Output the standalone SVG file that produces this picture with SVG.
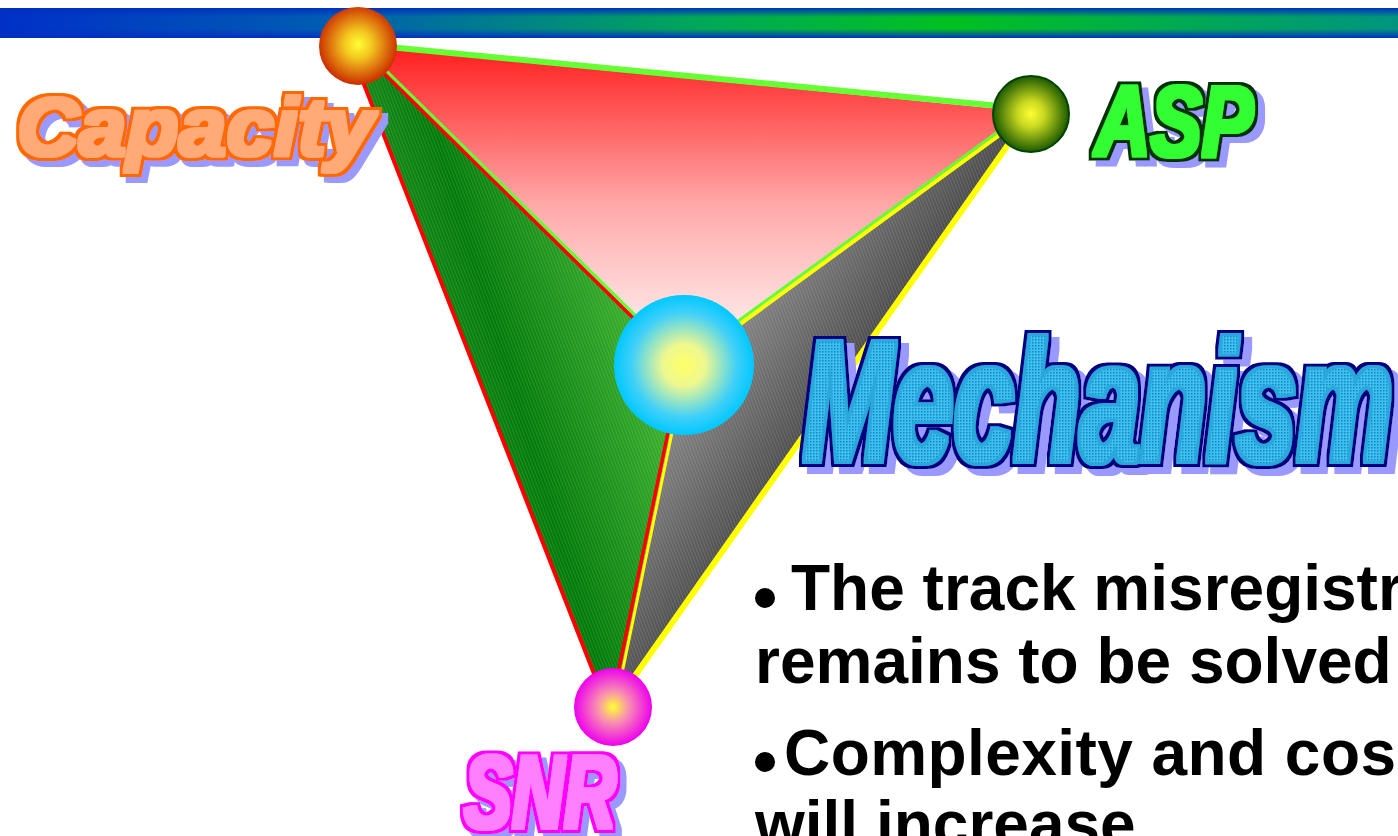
<svg xmlns="http://www.w3.org/2000/svg" width="1398" height="836" viewBox="0 0 1398 836">
<style>
.lbl{font-family:"Liberation Sans",Arial,sans-serif;font-weight:bold;font-style:italic}
.body{font-family:"Liberation Sans",Arial,sans-serif;font-weight:bold;font-size:64px;fill:#000}
.edge{fill:none;stroke-linecap:round}
</style>
<defs>
<linearGradient id="barH" x1="0" y1="0" x2="1" y2="0">
<stop offset="0" stop-color="#0030c8"/>
<stop offset="0.25" stop-color="#0060b0"/>
<stop offset="0.5" stop-color="#00a858"/>
<stop offset="0.68" stop-color="#00c020"/>
<stop offset="1" stop-color="#009480"/>
</linearGradient>
<linearGradient id="barV" x1="0" y1="0" x2="0" y2="1">
<stop offset="0" stop-color="#0030c0" stop-opacity="1"/>
<stop offset="0.3" stop-color="#0030c0" stop-opacity="0"/>
<stop offset="0.7" stop-color="#0030c0" stop-opacity="0"/>
<stop offset="1" stop-color="#0030c0" stop-opacity="1"/>
</linearGradient>
<linearGradient id="redFace" gradientUnits="userSpaceOnUse" x1="0" y1="50" x2="0" y2="330">
<stop offset="0" stop-color="#ff2020"/>
<stop offset="0.55" stop-color="#ffa8a8"/>
<stop offset="1" stop-color="#ffeaea"/>
</linearGradient>
<linearGradient id="greenFace" gradientUnits="userSpaceOnUse" x1="420" y1="330" x2="650" y2="260">
<stop offset="0" stop-color="#1a8c1a"/>
<stop offset="0.3" stop-color="#007a08"/>
<stop offset="1" stop-color="#48bc36"/>
</linearGradient>
<linearGradient id="grayFace" gradientUnits="userSpaceOnUse" x1="690" y1="390" x2="840" y2="490">
<stop offset="0" stop-color="#858585"/>
<stop offset="1" stop-color="#333333"/>
</linearGradient>
<pattern id="stripes" width="3" height="12" patternUnits="userSpaceOnUse" patternTransform="rotate(-21)">
<rect x="0" y="0" width="1" height="12" fill="#ffffff" fill-opacity="0.13"/>
</pattern>
<pattern id="dots" width="3" height="3" patternUnits="userSpaceOnUse">
<rect width="3" height="3" fill="#3cc0f0"/>
<rect width="1.5" height="1.5" fill="#1488c4"/>
</pattern>
<radialGradient id="gCap" cx="0.5" cy="0.48" r="0.5">
<stop offset="0" stop-color="#ffff33"/>
<stop offset="0.35" stop-color="#f4c820"/>
<stop offset="1" stop-color="#cc3300"/>
</radialGradient>
<radialGradient id="gAsp" cx="0.5" cy="0.5" r="0.5">
<stop offset="0" stop-color="#ffff33"/>
<stop offset="0.35" stop-color="#c8d820"/>
<stop offset="1" stop-color="#1c5a00"/>
</radialGradient>
<radialGradient id="gSnr" cx="0.5" cy="0.5" r="0.5">
<stop offset="0" stop-color="#ffff33"/>
<stop offset="0.4" stop-color="#f890b0"/>
<stop offset="1" stop-color="#ee00ee"/>
</radialGradient>
<radialGradient id="gMid" cx="0.5" cy="0.5" r="0.5">
<stop offset="0" stop-color="#ffff66"/>
<stop offset="0.3" stop-color="#eef890"/>
<stop offset="0.75" stop-color="#40d0f8"/>
<stop offset="1" stop-color="#00c8ff"/>
</radialGradient>
<filter id="fCap" x="-5%" y="-20%" width="115%" height="145%">
<feMorphology in="SourceAlpha" operator="dilate" radius="4.5" result="outer"/>
<feMorphology in="SourceAlpha" operator="dilate" radius="2" result="inner"/>
<feFlood flood-color="#9999ff"/><feComposite in2="outer" operator="in"/><feOffset dx="6" dy="6" result="sh"/>
<feFlood flood-color="#ff6a00"/><feComposite in2="outer" operator="in" result="ol"/>
<feFlood flood-color="#ffaa77"/><feComposite in2="inner" operator="in" result="fi"/>
<feMerge><feMergeNode in="sh"/><feMergeNode in="ol"/><feMergeNode in="fi"/></feMerge>
</filter>
<filter id="fAsp" x="-10%" y="-20%" width="125%" height="145%">
<feMorphology in="SourceAlpha" operator="dilate" radius="4.5" result="outer"/>
<feMorphology in="SourceAlpha" operator="dilate" radius="2" result="inner"/>
<feFlood flood-color="#9999ff"/><feComposite in2="outer" operator="in"/><feOffset dx="7" dy="6" result="sh"/>
<feFlood flood-color="#003300"/><feComposite in2="outer" operator="in" result="ol"/>
<feFlood flood-color="#33ff33"/><feComposite in2="inner" operator="in" result="fi"/>
<feMerge><feMergeNode in="sh"/><feMergeNode in="ol"/><feMergeNode in="fi"/></feMerge>
</filter>
<filter id="fSnr" x="-10%" y="-20%" width="125%" height="145%">
<feMorphology in="SourceAlpha" operator="dilate" radius="4.5" result="outer"/>
<feMorphology in="SourceAlpha" operator="dilate" radius="2" result="inner"/>
<feFlood flood-color="#9999ff"/><feComposite in2="outer" operator="in"/><feOffset dx="6" dy="6" result="sh"/>
<feFlood flood-color="#ff00ff"/><feComposite in2="outer" operator="in" result="ol"/>
<feFlood flood-color="#ff80ff"/><feComposite in2="inner" operator="in" result="fi"/>
<feMerge><feMergeNode in="sh"/><feMergeNode in="ol"/><feMergeNode in="fi"/></feMerge>
</filter>
<filter id="fMech" x="-5%" y="-15%" width="115%" height="135%">
<feMorphology in="SourceAlpha" operator="dilate" radius="5.5" result="outer"/>
<feMorphology in="SourceAlpha" operator="dilate" radius="2.5" result="inner"/>
<feFlood flood-color="#9999ff"/><feComposite in2="outer" operator="in"/><feOffset dx="8" dy="7" result="sh"/>
<feFlood flood-color="#000080"/><feComposite in2="outer" operator="in" result="ol"/>
<feFlood flood-color="#2aa8de"/><feComposite in2="inner" operator="in" result="fi"/>
<feMerge><feMergeNode in="sh"/><feMergeNode in="ol"/><feMergeNode in="fi"/><feMergeNode in="SourceGraphic"/></feMerge>
</filter>
</defs>

<g id="topbar">
<rect x="0" y="8" width="1398" height="30" fill="url(#barH)"/>
<rect x="0" y="8" width="1398" height="30" fill="url(#barV)"/>
</g>

<g id="faces">
<polygon id="face-red" points="358,46 1031,112 684,365" fill="url(#redFace)"/>
<polygon id="face-green" points="349,46 358,46 684,365 613,707 607,707" fill="url(#greenFace)"/>
<polygon points="349,46 358,46 684,365 613,707 607,707" fill="url(#stripes)"/>
<polygon id="face-gray" points="1031,112 684,365 613,707" fill="url(#grayFace)"/>
<polygon points="1031,112 684,365 613,707" fill="url(#stripes)"/>
</g>

<g id="connectors">
<line class="edge" x1="358" y1="44" x2="1031" y2="109" stroke="#66ff33" stroke-width="6"/>
<line class="edge" x1="349" y1="46" x2="607" y2="707" stroke="#ff0000" stroke-width="4"/>
<line class="edge" x1="1031" y1="112" x2="613" y2="707" stroke="#ffff00" stroke-width="6"/>
<line class="edge" x1="356" y1="46" x2="681" y2="365" stroke="#ff0000" stroke-width="3.5"/>
<line class="edge" x1="359" y1="44" x2="684" y2="363" stroke="#66ff33" stroke-width="3"/>
<line class="edge" x1="1031" y1="112" x2="684" y2="365" stroke="#ffff00" stroke-width="4"/>
<line class="edge" x1="1029" y1="109" x2="682" y2="362" stroke="#66ff33" stroke-width="3"/>
<line class="edge" x1="682" y1="365" x2="611" y2="707" stroke="#ff0000" stroke-width="3.5"/>
<line class="edge" x1="686" y1="365" x2="615" y2="707" stroke="#ffff00" stroke-width="3"/>
</g>

<g id="node-capacity">
<circle cx="358" cy="46" r="39" fill="url(#gCap)"/>
<text class="lbl" x="17" y="155" font-size="82" textLength="357" lengthAdjust="spacingAndGlyphs" fill="#ffaa77" filter="url(#fCap)">Capacity</text>
</g>

<g id="node-asp">
<circle cx="1031" cy="114" r="38" fill="url(#gAsp)" stroke="#004400" stroke-width="2"/>
<text class="lbl" x="1095" y="156" font-size="100" textLength="158" lengthAdjust="spacingAndGlyphs" fill="#33ff33" filter="url(#fAsp)">ASP</text>
</g>

<g id="node-snr">
<circle cx="613" cy="707" r="39" fill="url(#gSnr)"/>
<text class="lbl" x="464" y="828" font-size="103" textLength="152" lengthAdjust="spacingAndGlyphs" fill="#ff80ff" filter="url(#fSnr)">SNR</text>
</g>

<g id="node-center">
<circle cx="684" cy="365" r="70" fill="url(#gMid)"/>
</g>

<g id="title-mechanism">
<text class="lbl" x="803" y="461" font-size="173" textLength="590" lengthAdjust="spacingAndGlyphs" fill="url(#dots)" filter="url(#fMech)">Mechanism</text>
</g>

<g id="bullets">
<circle cx="765" cy="598" r="10" fill="#000"/>
<text class="body" x="791" y="610">The track misregistr</text>
<text class="body" x="755" y="683">remains to be solved</text>
<circle cx="765" cy="762" r="10" fill="#000"/>
<text class="body" x="784" y="775" textLength="612">Complexity and cos</text>
<text class="body" x="755" y="846">will increase</text>
</g>
</svg>
